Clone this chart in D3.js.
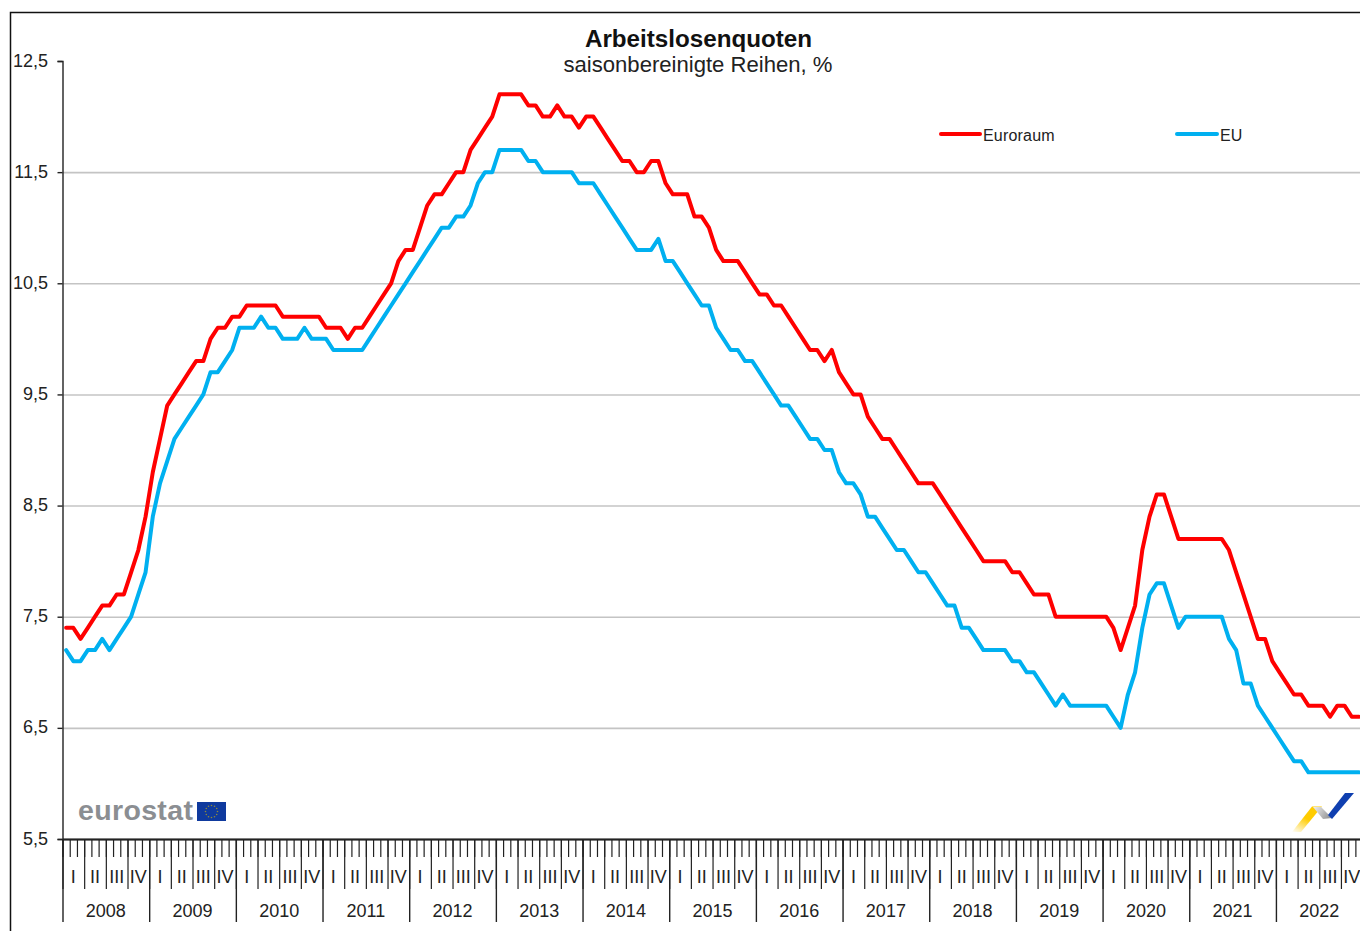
<!DOCTYPE html>
<html>
<head>
<meta charset="utf-8">
<script src="https://cdn.jsdelivr.net/npm/d3@7"></script>
<style>
html, body { margin: 0; padding: 0; background: #fff; overflow: hidden; }
svg { display: block; }
text { font-family: "Liberation Sans", Arial, sans-serif; fill: #222; }
</style>
</head>
<body>
<div id="vis"></div>
<script>
var years = ['2008','2009','2010','2011','2012','2013','2014','2015','2016','2017','2018','2019','2020','2021','2022'];
var quarters = ['I','II','III','IV'];
var yTicks = [5.5,6.5,7.5,8.5,9.5,10.5,11.5,12.5];

// monthly values, Jan 2008 - Dec 2022
var euroraum = [
    7.4,7.4,7.3,7.4,7.5,7.6,7.6,7.7,7.7,7.9,8.1,8.4,
    8.8,9.1,9.4,9.5,9.6,9.7,9.8,9.8,10.0,10.1,10.1,10.2,
    10.2,10.3,10.3,10.3,10.3,10.3,10.2,10.2,10.2,10.2,10.2,10.2,
    10.1,10.1,10.1,10.0,10.1,10.1,10.2,10.3,10.4,10.5,10.7,10.8,
    10.8,11.0,11.2,11.3,11.3,11.4,11.5,11.5,11.7,11.8,11.9,12.0,
    12.2,12.2,12.2,12.2,12.1,12.1,12.0,12.0,12.1,12.0,12.0,11.9,
    12.0,12.0,11.9,11.8,11.7,11.6,11.6,11.5,11.5,11.6,11.6,11.4,
    11.3,11.3,11.3,11.1,11.1,11.0,10.8,10.7,10.7,10.7,10.6,10.5,
    10.4,10.4,10.3,10.3,10.2,10.1,10.0,9.9,9.9,9.8,9.9,9.7,
    9.6,9.5,9.5,9.3,9.2,9.1,9.1,9.0,8.9,8.8,8.7,8.7,
    8.7,8.6,8.5,8.4,8.3,8.2,8.1,8.0,8.0,8.0,8.0,7.9,
    7.9,7.8,7.7,7.7,7.7,7.5,7.5,7.5,7.5,7.5,7.5,7.5,
    7.5,7.4,7.2,7.4,7.6,8.1,8.4,8.6,8.6,8.4,8.2,8.2,
    8.2,8.2,8.2,8.2,8.2,8.1,7.9,7.7,7.5,7.3,7.3,7.1,
    7.0,6.9,6.8,6.8,6.7,6.7,6.7,6.6,6.7,6.7,6.6,6.6
];
var eu = [
    7.2,7.1,7.1,7.2,7.2,7.3,7.2,7.3,7.4,7.5,7.7,7.9,
    8.4,8.7,8.9,9.1,9.2,9.3,9.4,9.5,9.7,9.7,9.8,9.9,
    10.1,10.1,10.1,10.2,10.1,10.1,10.0,10.0,10.0,10.1,10.0,10.0,
    10.0,9.9,9.9,9.9,9.9,9.9,10.0,10.1,10.2,10.3,10.4,10.5,
    10.6,10.7,10.8,10.9,11.0,11.0,11.1,11.1,11.2,11.4,11.5,11.5,
    11.7,11.7,11.7,11.7,11.6,11.6,11.5,11.5,11.5,11.5,11.5,11.4,
    11.4,11.4,11.3,11.2,11.1,11.0,10.9,10.8,10.8,10.8,10.9,10.7,
    10.7,10.6,10.5,10.4,10.3,10.3,10.1,10.0,9.9,9.9,9.8,9.8,
    9.7,9.6,9.5,9.4,9.4,9.3,9.2,9.1,9.1,9.0,9.0,8.8,
    8.7,8.7,8.6,8.4,8.4,8.3,8.2,8.1,8.1,8.0,7.9,7.9,
    7.8,7.7,7.6,7.6,7.4,7.4,7.3,7.2,7.2,7.2,7.2,7.1,
    7.1,7.0,7.0,6.9,6.8,6.7,6.8,6.7,6.7,6.7,6.7,6.7,
    6.7,6.6,6.5,6.8,7.0,7.4,7.7,7.8,7.8,7.6,7.4,7.5,
    7.5,7.5,7.5,7.5,7.5,7.3,7.2,6.9,6.9,6.7,6.6,6.5,
    6.4,6.3,6.2,6.2,6.1,6.1,6.1,6.1,6.1,6.1,6.1,6.1
];

var width = 1360;
var height = 931;
var red = '#ff0000';
var blue = '#00b0f0';

var svg = d3.select('#vis')
    .append('svg')
        .attr('width', width)
        .attr('height', height);

var x_scale = d3.scaleLinear()
    .domain([0, years.length * 12])
    .range([62.5, 1362.6]);

var y_scale = d3.scaleLinear()
    .domain([5.5, 12.5])
    .range([839, 61]);

// outer frame, only top and left are inside the picture
svg.append('path')
    .attr('d', 'M10.5,931V12.5H1360')
    .attr('fill', 'none')
    .attr('stroke', '#111')
    .attr('stroke-width', 1.5);

// grid lines
var grid = svg.append('g')
    .attr('transform', 'translate(62.5,0)')
    .call(d3.axisRight(y_scale)
        .tickValues(yTicks.filter(function(d){ return d > 5.5 && d < 12.5; }))
        .tickSize(width)
        .tickFormat(''));
grid.select('.domain').remove();
grid.selectAll('line').attr('stroke', '#c4c4c4').attr('stroke-width', 1.6);

var commaFormat = function(d){ return d3.format('.1f')(d).replace('.', ','); };

var y_axis = svg.append('g')
    .attr('transform', 'translate(62.5,0)')
    .call(d3.axisLeft(y_scale)
        .tickValues(yTicks)
        .tickSize(5)
        .tickPadding(1)
        .tickFormat(commaFormat));
y_axis.select('.domain').attr('stroke', '#222').attr('stroke-width', 1.4);
y_axis.selectAll('line').attr('stroke', '#222').attr('stroke-width', 1.4);
y_axis.selectAll('text').style('font-family', '"Liberation Sans", Arial, sans-serif').style('font-size', '18px').attr('dy', '0.28em').attr('x', -14.5);

// x axis: month, quarter and year ticks
var nMonths = years.length * 12;

function tickLayer(values, size, strokeWidth)
{
    var g = svg.append('g')
        .attr('transform', 'translate(0,839)')
        .call(d3.axisBottom(x_scale)
            .tickValues(values)
            .tickSize(size)
            .tickSizeOuter(0)
            .tickFormat(''));
    g.select('.domain').attr('stroke', '#222').attr('stroke-width', 1.5);
    g.selectAll('line').attr('stroke', '#222').attr('stroke-width', strokeWidth);
    return g;
}

tickLayer(d3.range(0, nMonths + 1), 18, 1.2);
tickLayer(d3.range(0, nMonths + 1, 3), 50, 1.2);
tickLayer(d3.range(0, nMonths + 1, 12), 83, 1.4);

var quarterData = d3.range(0, years.length * 4);

svg.append('g').selectAll('text')
    .data(quarterData)
    .enter().append('text')
    .attr('x', function(d){ return x_scale(d * 3 + 1.5); })
    .attr('y', 883)
    .attr('text-anchor', 'middle')
    .attr('font-size', 18)
    .text(function(d){ return quarters[d % 4]; });

svg.append('g').selectAll('text')
    .data(years)
    .enter().append('text')
    .attr('x', function(d, i){ return x_scale(i * 12 + 6); })
    .attr('y', 917)
    .attr('text-anchor', 'middle')
    .attr('font-size', 18)
    .text(function(d){ return d; });

// series
var line = d3.line()
    .x(function(d, i){ return x_scale(i + 0.5); })
    .y(function(d){ return y_scale(d); });

function drawSeries(data, color)
{
    svg.append('path')
        .datum(data)
        .attr('d', line)
        .attr('fill', 'none')
        .attr('stroke', color)
        .attr('stroke-width', 4)
        .attr('stroke-linejoin', 'round')
        .attr('stroke-linecap', 'round');
}

drawSeries(eu, blue);
drawSeries(euroraum, red);

// title
svg.append('text')
    .attr('x', 698.5).attr('y', 47)
    .attr('text-anchor', 'middle')
    .attr('font-size', 24.2)
    .attr('font-weight', 'bold')
    .style('fill', '#111')
    .text('Arbeitslosenquoten');

svg.append('text')
    .attr('x', 698).attr('y', 72)
    .attr('text-anchor', 'middle')
    .attr('font-size', 22.1)
    .text('saisonbereinigte Reihen, %');

// legend
function legendItem(x0, x1, color, label)
{
    svg.append('line')
        .attr('x1', x0).attr('x2', x1)
        .attr('y1', 134).attr('y2', 134)
        .attr('stroke', color)
        .attr('stroke-width', 4)
        .attr('stroke-linecap', 'round');
    svg.append('text')
        .attr('x', x1 + 3).attr('y', 141)
        .attr('font-size', 16)
        .attr('letter-spacing', 0.2)
        .text(label);
}

legendItem(941, 980, red, 'Euroraum');
legendItem(1177, 1217, blue, 'EU');

// eurostat logo
svg.append('text')
    .attr('x', 78).attr('y', 820)
    .attr('font-size', 28.5)
    .attr('font-weight', 'bold')
    .attr('letter-spacing', 0.35)
    .style('fill', '#8b8e92')
    .text('eurostat');

svg.append('rect')
    .attr('x', 197).attr('y', 802)
    .attr('width', 29).attr('height', 19)
    .attr('fill', '#0f3a9e');

svg.append('g').selectAll('circle')
    .data(d3.range(12))
    .enter().append('circle')
    .attr('cx', function(d){ return 211.5 + 6 * Math.cos(d * Math.PI / 6); })
    .attr('cy', function(d){ return 811.5 + 6 * Math.sin(d * Math.PI / 6); })
    .attr('r', 0.8)
    .attr('fill', '#8f8a3c');

// small logo in the corner
var defs = svg.append('defs');
var fade = defs.append('linearGradient')
    .attr('id', 'fade')
    .attr('x1', 0).attr('y1', 1)
    .attr('x2', 0.6).attr('y2', 0);
fade.append('stop').attr('offset', 0).attr('stop-color', '#ffcc00').attr('stop-opacity', 0);
fade.append('stop').attr('offset', 0.6).attr('stop-color', '#ffcc00');

var grey = defs.append('linearGradient')
    .attr('id', 'grey')
    .attr('x1', 0).attr('y1', 0)
    .attr('x2', 1).attr('y2', 0.4);
grey.append('stop').attr('offset', 0).attr('stop-color', '#f0f0f0');
grey.append('stop').attr('offset', 1).attr('stop-color', '#9a9a9a');

svg.append('path').attr('d', 'M1292,832L1312,806.5H1322L1301,832Z').attr('fill', 'url(#fade)');
svg.append('path').attr('d', 'M1313,807H1321L1332,818L1323,819Z').attr('fill', 'url(#grey)');
svg.append('path').attr('d', 'M1328,815L1345,793H1354L1332,819Z').attr('fill', '#0f3fb0');
</script>
</body>
</html>
